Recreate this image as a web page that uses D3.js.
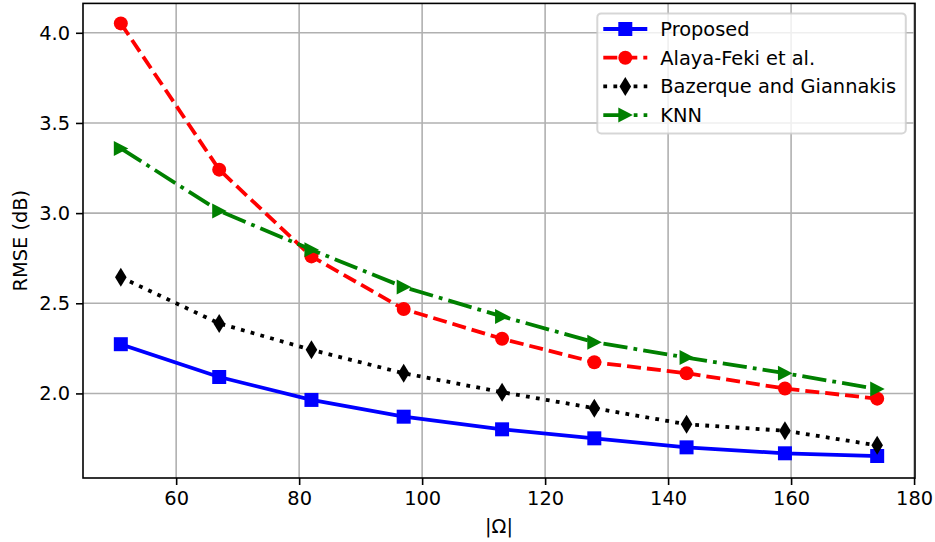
<!DOCTYPE html>
<html>
<head>
<meta charset="utf-8">
<script src="https://cdn.jsdelivr.net/npm/d3@7"></script>
<style>
  body { margin: 0; background: #fff; }
  text { font-family: "DejaVu Sans", sans-serif; fill: #000; }
</style>
</head>
<body>
<div id="chart"></div>
<script>
// values
var omega = [51, 67, 82, 97, 113, 128, 143, 159, 174]
var proposed = [2.273, 2.091, 1.964, 1.871, 1.801, 1.751, 1.701, 1.668, 1.653]
var alayaFeki = [4.052, 3.241, 2.760, 2.468, 2.303, 2.173, 2.112, 2.027, 1.971]
var bazerque = [2.644, 2.388, 2.242, 2.112, 2.007, 1.918, 1.829, 1.793, 1.712]
var knn = [3.359, 3.012, 2.797, 2.590, 2.427, 2.284, 2.199, 2.112, 2.025]

var seriesNames = ['Proposed', 'Alaya-Feki et al.', 'Bazerque and Giannakis', 'KNN']
var xTicks = [60, 80, 100, 120, 140, 160, 180]
var yTicks = [2.0, 2.5, 3.0, 3.5, 4.0]

var w = 935, h = 542
var margin = { top: 3.4, right: 20, bottom: 64, left: 83 }
var fontSize = 19.4
var lw = 3.8

var svg = d3.select('#chart')
  .append('svg')
  .attr('width', w)
  .attr('height', h)

svg.append('rect').attr('width', w).attr('height', h).attr('fill', '#fff')

var x = d3.scaleLinear()
  .domain([44.85, 180.15])
  .range([margin.left, w - margin.right])

var y = d3.scaleLinear()
  .domain([1.531, 4.163])
  .range([h - margin.bottom, margin.top])

// grid
svg.append('g')
  .selectAll('line')
  .data(xTicks)
  .enter().append('line')
  .attr('x1', function(d) { return x(d) })
  .attr('x2', function(d) { return x(d) })
  .attr('y1', y.range()[0])
  .attr('y2', y.range()[1])
  .attr('stroke', '#b0b0b0')
  .attr('stroke-width', 1.6)

svg.append('g')
  .selectAll('line')
  .data(yTicks)
  .enter().append('line')
  .attr('y1', function(d) { return y(d) })
  .attr('y2', function(d) { return y(d) })
  .attr('x1', x.range()[0])
  .attr('x2', x.range()[1])
  .attr('stroke', '#b0b0b0')
  .attr('stroke-width', 1.6)

// axes
var xAxis = svg.append('g')
  .attr('transform', 'translate(0,' + y.range()[0] + ')')
  .call(d3.axisBottom(x).tickValues(xTicks).tickSize(7).tickPadding(6).tickSizeOuter(0))

var yAxis = svg.append('g')
  .attr('transform', 'translate(' + x.range()[0] + ',0)')
  .call(d3.axisLeft(y).tickValues(yTicks).tickFormat(d3.format('.1f')).tickSize(7).tickPadding(6).tickSizeOuter(0))

svg.selectAll('.domain').remove()
svg.selectAll('.tick line').attr('stroke', '#000').attr('stroke-width', 1.6)
svg.selectAll('.tick text')
  .style('font-family', '"DejaVu Sans", sans-serif')
  .style('font-size', fontSize + 'px')
  .attr('fill', '#000')

// frame
svg.append('rect')
  .attr('x', x.range()[0])
  .attr('y', y.range()[1])
  .attr('width', x.range()[1] - x.range()[0])
  .attr('height', y.range()[0] - y.range()[1])
  .attr('fill', 'none')
  .attr('stroke', '#000')
  .attr('stroke-width', 1.6)

svg.append('text')
  .attr('x', (x.range()[0] + x.range()[1]) / 2)
  .attr('y', 533)
  .attr('text-anchor', 'middle')
  .style('font-size', fontSize + 'px')
  .text('|Ω|')

svg.append('text')
  .attr('transform', 'translate(27,' + (y.range()[0] + y.range()[1]) / 2 + ') rotate(-90)')
  .attr('text-anchor', 'middle')
  .style('font-size', fontSize + 'px')
  .text('RMSE (dB)')

// marker shapes, centred on 0,0
function markerPath(kind) {
  if (kind == 'square') return 'M-7,-7H7V7H-7Z'
  if (kind == 'circle') return 'M7,0A7,7 0 1,1 -7,0A7,7 0 1,1 7,0Z'
  if (kind == 'thin_diamond') return 'M0,-9.5L5.8,0L0,9.5L-5.8,0Z'
  return 'M7.5,0L-7,-7.5L-7,7.5Z'
}

var series = [
  { name: seriesNames[0], values: proposed, color: '#0000ff', dash: null, marker: 'square' },
  { name: seriesNames[1], values: alayaFeki, color: '#ff0000', dash: '14,6', marker: 'circle' },
  { name: seriesNames[2], values: bazerque, color: '#000000', dash: '3.8,6.3', marker: 'thin_diamond' },
  { name: seriesNames[3], values: knn, color: '#008000', dash: '24.3,6.1,3.8,6.1', marker: 'triangle' }
]

var line = d3.line()
  .x(function(d) { return x(d[0]) })
  .y(function(d) { return y(d[1]) })

series.forEach(function(s) {
  var pts = omega.map(function(o, i) { return [o, s.values[i]] })
  var g = svg.append('g')

  g.append('path')
    .attr('d', line(pts))
    .attr('fill', 'none')
    .attr('stroke', s.color)
    .attr('stroke-width', lw)
    .attr('stroke-dasharray', s.dash)
    .attr('stroke-linecap', s.dash ? 'butt' : 'square')
    .attr('stroke-linejoin', 'round')

  g.selectAll('.mk')
    .data(pts)
    .enter().append('path')
    .attr('class', 'mk')
    .attr('d', markerPath(s.marker))
    .attr('transform', function(d) { return 'translate(' + x(d[0]) + ',' + y(d[1]) + ')' })
    .attr('fill', s.color)
})

// legend
var legend = svg.append('g')
  .attr('transform', 'translate(597.3,13.4)')

legend.append('rect')
  .attr('width', 308.5)
  .attr('height', 120)
  .attr('rx', 4)
  .attr('fill', 'rgba(255,255,255,0.8)')
  .attr('stroke', 'rgba(204,204,204,0.8)')
  .attr('stroke-width', 2)

var item = legend.selectAll('.legend')
  .data(series)
  .enter().append('g')
  .attr('class', 'legend')
  .attr('transform', function(d, i) { return 'translate(0,' + (15.6 + i * 28.7) + ')' })

item.append('line')
  .attr('x1', 6)
  .attr('x2', 50)
  .attr('stroke', function(d) { return d.color })
  .attr('stroke-width', lw)
  .attr('stroke-dasharray', function(d) { return d.dash })

item.append('path')
  .attr('d', function(d) { return markerPath(d.marker) })
  .attr('transform', 'translate(28,0)')
  .attr('fill', function(d) { return d.color })

item.append('text')
  .attr('x', 63)
  .attr('dy', '0.36em')
  .style('font-size', fontSize + 'px')
  .text(function(d) { return d.name })
</script>
</body>
</html>
